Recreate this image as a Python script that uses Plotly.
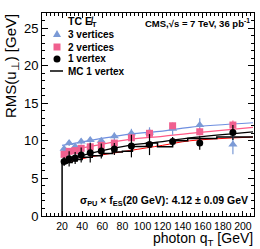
import plotly.graph_objects as go

# ---- data ----
qt = [22, 27, 33, 39, 48, 59, 72, 89, 107, 130, 157, 190]
rms_1v = [7.25, 7.6, 7.7, 8.1, 8.4, 8.65, 8.9, 9.3, 9.5, 9.9, 9.7, 11.1]
err_1v = [0.6, 1.0, 0.8, 1.0, 1.3, 1.0, 0.8, 1.5, 1.4, 0.6, 0.9, 1.0]
rms_2v = [8.2, 8.6, 8.7, 9.0, 9.2, 9.4, 9.7, 10.4, 11.0, 12.0, 11.2, 12.1]
err_2v = [0.3, 0.3, 0.3, 0.3, 0.3, 0.3, 0.3, 0.4, 0.4, 0.4, 0.5, 0.6]
rms_3v = [8.95, 9.7, 9.25, 9.9, 10.1, 10.0, 10.6, 11.0, 11.1, 11.6, 12.1, 9.5]
err_3v = [0.4, 0.4, 0.4, 0.4, 0.4, 0.4, 0.5, 0.6, 0.7, 0.8, 0.9, 1.3]

fit_x = [20, 50, 87, 120, 147, 210]
fit_3v = [9.4, 10.1, 10.9, 11.3, 11.8, 12.4]
fit_2v = [8.6, 9.3, 10.2, 10.6, 11.0, 11.8]
fit_mc = [7.2, 8.4, 9.4, 9.9, 10.4, 11.2]
fit_1v = [7.0, 7.9, 8.7, 9.4, 10.0, 10.5]

mc_edges = [20, 25, 30, 35, 40, 50, 60, 70, 80, 90, 104, 115, 130, 145, 157, 174, 210]
mc_vals = [7.0, 7.1, 7.3, 7.5, 7.8, 8.0, 8.3, 8.5, 8.6, 9.24, 9.7, 9.2, 10.0, 10.3, 10.3, 10.5]

x_ticks = [20, 40, 60, 80, 100, 120, 140, 160, 180, 200]
y_ticks = [0, 5, 10, 15, 20, 25]
legend_labels = ["3 vertices", "2 vertices", "1 vertex", "MC 1 vertex"]

BLUE = "#7b9ad6"
PINK = "#f0608f"
BLUE_LINE = "#6f8fe0"
PINK_LINE = "#ff5a86"
FONT = "Liberation Sans, Arial, sans-serif"

fig = go.Figure()

# fit lines
for fy, col, w in [(fit_3v, BLUE_LINE, 1.2), (fit_2v, PINK_LINE, 1.2), (fit_mc, "black", 1.2), (fit_1v, "red", 1.0)]:
    fig.add_trace(go.Scatter(x=fit_x, y=fy, mode="lines", line=dict(color=col, width=w, shape="spline"),
                             showlegend=False, hoverinfo="skip"))

# MC histogram (step)
hx = [mc_edges[0]]
hy = [0]
for i, v in enumerate(mc_vals):
    hx += [mc_edges[i], mc_edges[i + 1]]
    hy += [v, v]
fig.add_trace(go.Scatter(x=hx, y=hy, mode="lines", line=dict(color="black", width=1.5),
                         showlegend=False, hoverinfo="skip"))

fig.add_trace(go.Scatter(x=qt, y=rms_3v, mode="markers", name=legend_labels[0],
                         marker=dict(symbol="triangle-up", size=8, color=BLUE),
                         error_y=dict(type="data", array=err_3v, color=BLUE, thickness=1.2, width=0)))
fig.add_trace(go.Scatter(x=qt, y=rms_2v, mode="markers", name=legend_labels[1],
                         marker=dict(symbol="square", size=7, color=PINK),
                         error_y=dict(type="data", array=err_2v, color=PINK, thickness=1.2, width=0)))
fig.add_trace(go.Scatter(x=qt, y=rms_1v, mode="markers", name=legend_labels[2],
                         marker=dict(symbol="circle", size=7, color="black"),
                         error_y=dict(type="data", array=err_1v, color="black", thickness=1.2, width=0)))

# plot area in pixels: x 42..254, y 13..216
L, R, T, B = 42, 6, 13, 33
W, H = 260, 249
PW, PH = W - L - R, H - T - B


def px(xp):
    return (xp - L) / PW


def py(yp):
    return (H - B - yp) / PH


fig.update_layout(
    width=W, height=H,
    margin=dict(l=L, r=R, t=T, b=B),
    paper_bgcolor="white", plot_bgcolor="white",
    font=dict(family=FONT, size=11, color="black"),
    showlegend=False,
    xaxis=dict(range=[0, 211], tickvals=x_ticks,
               tickangle=0,
               ticks="inside", ticklen=5, tickcolor="black", mirror="ticks",
               showline=True, linecolor="black", linewidth=1, showgrid=False, zeroline=False,
               minor=dict(ticks="inside", ticklen=3, dtick=4, tickcolor="black"),
               tickfont=dict(size=10.5, family=FONT)),
    yaxis=dict(range=[0, 27], tickvals=y_ticks,
               ticks="inside", ticklen=6, tickcolor="black", mirror="ticks",
               showline=True, linecolor="black", linewidth=1, showgrid=False, zeroline=False,
               minor=dict(ticks="inside", ticklen=3, dtick=1, tickcolor="black"),
               tickfont=dict(size=13, family=FONT)),
)

# axis titles
fig.add_annotation(text="photon q<sub>T</sub> [GeV]", x=px(255), y=py(239), xref="paper", yref="paper",
                   xanchor="right", yanchor="middle", showarrow=False, font=dict(size=14, family=FONT))
fig.add_annotation(text="RMS(u<sub>\u22a5</sub>) [GeV]", x=px(11), y=py(66), xref="paper", yref="paper",
                   xanchor="center", yanchor="middle", textangle=-90, showarrow=False,
                   font=dict(size=15, family=FONT))

# texts
fig.add_annotation(text="<b>CMS,\u221as = 7 TeV, 36 pb<sup>-1</sup></b>", x=px(143), y=py(15),
                   xref="paper", yref="paper", xanchor="left", yanchor="top", showarrow=False,
                   font=dict(size=9.5, family=FONT))
fig.add_annotation(text="<b>\u03c3<sub>PU</sub> \u00d7 f<sub>ES</sub>(20 GeV): 4.12 \u00b1 0.09 GeV</b>",
                   x=px(250), y=py(201), xref="paper", yref="paper", xanchor="right", yanchor="middle",
                   showarrow=False, font=dict(size=10.5, family=FONT))

# manual legend
fig.add_annotation(text="<b>TC E\u0338<sub>T</sub></b>", x=px(66), y=py(22), xref="paper", yref="paper",
                   xanchor="left", yanchor="middle", showarrow=False, font=dict(size=10.5, family=FONT))
leg_y = [34, 47, 59, 71]
for lbl, yy in zip(legend_labels, leg_y):
    fig.add_annotation(text="<b>" + lbl + "</b>", x=px(66), y=py(yy), xref="paper", yref="paper",
                       xanchor="left", yanchor="middle", showarrow=False, font=dict(size=10, family=FONT))

mx = px(57)
fig.add_shape(type="path", xref="paper", yref="paper", xsizemode="pixel", ysizemode="pixel",
              xanchor=mx, yanchor=py(leg_y[0]), path="M -4 -3 L 4 -3 L 0 4 Z",
              fillcolor=BLUE, line=dict(width=0))
fig.add_shape(type="rect", xref="paper", yref="paper", xsizemode="pixel", ysizemode="pixel",
              xanchor=mx, yanchor=py(leg_y[1]), x0=-3.5, x1=3.5, y0=-3.5, y1=3.5,
              fillcolor=PINK, line=dict(width=0))
fig.add_shape(type="circle", xref="paper", yref="paper", xsizemode="pixel", ysizemode="pixel",
              xanchor=mx, yanchor=py(leg_y[2]), x0=-3.5, x1=3.5, y0=-3.5, y1=3.5,
              fillcolor="black", line=dict(width=0))
fig.add_shape(type="line", xref="paper", yref="paper", xsizemode="pixel", ysizemode="pixel",
              xanchor=mx, yanchor=py(leg_y[3]), x0=-7, x1=6, y0=0, y1=0,
              line=dict(color="black", width=1.5))

fig.write_html("out.html", config={"displayModeBar": False},
               post_script="document.body.style.margin='0';document.body.style.overflow='hidden';")
